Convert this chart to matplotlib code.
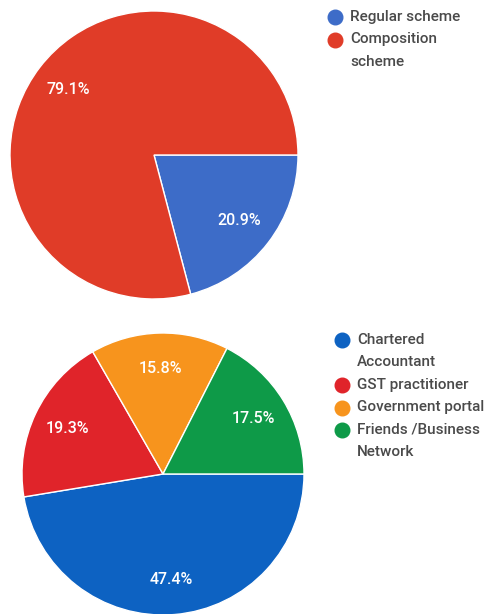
import matplotlib
matplotlib.use("Agg")
import matplotlib.pyplot as plt
from matplotlib.lines import Line2D

plt.rcParams['font.family'] = ['Roboto', 'DejaVu Sans']

# Scheme registration
scheme_labels = ["Regular scheme", "Composition\nscheme"]
scheme_values = [20.9, 79.1]
scheme_colors = ["#3d6cc8", "#e03c28"]

# Source of help for filing
help_labels = ["Chartered\nAccountant", "GST practitioner", "Government portal", "Friends /Business\nNetwork"]
help_values = [47.4, 19.3, 15.8, 17.5]
help_colors = ["#0d62c2", "#e0242a", "#f7941d", "#0e9a48"]

W, H = 489, 614
fig = plt.figure(figsize=(W / 100, H / 100), dpi=100)
fig.patch.set_facecolor("white")


def pie_axes(cx, cy, r):
    return fig.add_axes([(cx - r) / W, (H - cy - r) / H, 2 * r / W, 2 * r / H])


def draw_pie(ax, values, colors):
    wedges, texts, autotexts = ax.pie(
        values, colors=colors, startangle=0, counterclock=False,
        autopct="%1.1f%%", pctdistance=0.75,
        wedgeprops=dict(edgecolor="white", linewidth=1.0),
        textprops=dict(color="white", fontsize=11.5, fontweight="medium"),
    )
    ax.set_xlim(-1, 1)
    ax.set_ylim(-1, 1)
    ax.set_aspect("equal")
    ax.axis("off")
    for w in wedges:
        w.set_clip_on(False)


def draw_legend(labels, colors, x_dot, x_text, y_start, line_h):
    y = y_start
    for lab, col in zip(labels, colors):
        fig.add_artist(Line2D([x_dot / W], [1 - y / H], marker="o", markersize=10.5,
                              markerfacecolor=col, markeredgecolor=col, linestyle="none",
                              transform=fig.transFigure))
        for line in lab.split("\n"):
            fig.text(x_text / W, 1 - y / H, line, fontsize=11, color="#4a4a4a",
                     fontweight="medium", ha="left", va="center")
            y += line_h


ax1 = pie_axes(154, 155, 144)
draw_pie(ax1, scheme_values, scheme_colors)
draw_legend(scheme_labels, scheme_colors, 335, 350, 17, 22.5)

ax2 = pie_axes(163, 474, 141)
draw_pie(ax2, help_values, help_colors)
draw_legend(help_labels, help_colors, 342, 357, 340, 22.5)

fig.savefig("out.png", dpi=100, facecolor="white")
